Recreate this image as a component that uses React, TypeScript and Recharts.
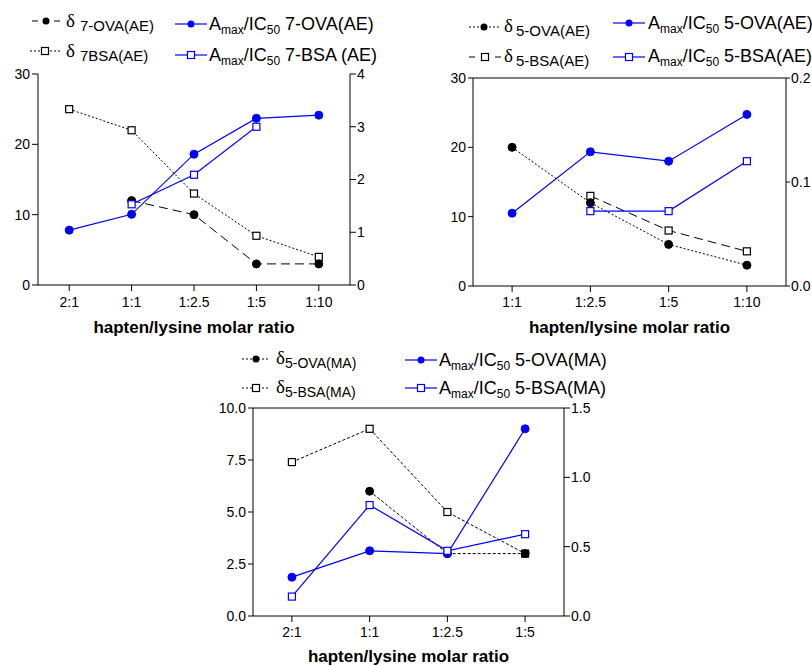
import React from 'react';
import { LineChart, Line, XAxis, YAxis, ReferenceLine } from 'recharts';

// ---------- Panel A: 7-series (AE) ----------
const ratiosA = ['2:1', '1:1', '1:2.5', '1:5', '1:10'];
const delta7OVA = [null, 12, 10, 3, 3];
const delta7BSA = [25, 22, 13, 7, 4];
const amax7OVA = [1.04, 1.34, 2.48, 3.16, 3.22];
const amax7BSA = [null, 1.53, 2.09, 3.0, null];
const leftTicksA = [0, 10, 20, 30];
const rightTicksA = [0, 1, 2, 3, 4];

// ---------- Panel B: 5-series (AE) ----------
const ratiosB = ['1:1', '1:2.5', '1:5', '1:10'];
const delta5OVA_AE = [20, 12, 6, 3];
const delta5BSA_AE = [null, 13, 8, 5];
const amax5OVA_AE = [0.07, 0.129, 0.12, 0.165];
const amax5BSA_AE = [null, 0.072, 0.072, 0.12];
const leftTicksB = [0, 10, 20, 30];
const rightTicksB = [0, 0.1, 0.2];

// ---------- Panel C: 5-series (MA) ----------
const ratiosC = ['2:1', '1:1', '1:2.5', '1:5'];
const delta5OVA_MA = [null, 6, 3, 3];
const delta5BSA_MA = [7.4, 9, 5, 3];
const amax5OVA_MA = [0.28, 0.47, 0.45, 1.35];
const amax5BSA_MA = [0.14, 0.8, 0.47, 0.59];
const leftTicksC = [0, 2.5, 5, 7.5, 10];
const rightTicksC = [0, 0.5, 1, 1.5];

const xTitle = 'hapten/lysine molar ratio';

const dataA = ratiosA.map((r, i) => ({ ratio: r, dOVA: delta7OVA[i], dBSA: delta7BSA[i], aOVA: amax7OVA[i], aBSA: amax7BSA[i] }));
const dataB = ratiosB.map((r, i) => ({ ratio: r, dOVA: delta5OVA_AE[i], dBSA: delta5BSA_AE[i], aOVA: amax5OVA_AE[i], aBSA: amax5BSA_AE[i] }));
const dataC = ratiosC.map((r, i) => ({ ratio: r, dOVA: delta5OVA_MA[i], dBSA: delta5BSA_MA[i], aOVA: amax5OVA_MA[i], aBSA: amax5BSA_MA[i] }));

const SANS = "'Liberation Sans', Arial, Helvetica, sans-serif";
const SERIF = "'Liberation Serif', 'Times New Roman', serif";
const BLUE = '#0000ff';
const BLACK = '#000000';

const circleDot = (color: string, r = 4) => (props: any) => {
  const { cx, cy, index, value } = props;
  if (cx == null || cy == null || value == null) return <g key={`c${index}`} />;
  return <circle key={`c${index}`} cx={cx} cy={cy} r={r} fill={color} stroke={color} strokeWidth={1} />;
};
const squareDot = (color: string, s = 7) => (props: any) => {
  const { cx, cy, index, value } = props;
  if (cx == null || cy == null || value == null) return <g key={`s${index}`} />;
  return <rect key={`s${index}`} x={cx - s / 2} y={cy - s / 2} width={s} height={s} fill="#ffffff" stroke={color} strokeWidth={1.2} />;
};

const tickStyle = { fontSize: 14, fill: BLACK, fontFamily: SANS };
const axisLine = { stroke: BLACK, strokeWidth: 1 };
const tickLine = { stroke: BLACK, strokeWidth: 1 };

const fmt1 = (v: number) => v.toFixed(1);

type PanelProps = {
  data: any[];
  width: number;
  height: number;
  top: number;
  leftW: number;
  rightW: number;
  xH: number;
  pad: number;
  leftDomain: [number, number];
  rightDomain: [number, number];
  leftTicks: number[];
  rightTicks: number[];
  leftFmt?: (v: number) => string;
  rightFmt?: (v: number) => string;
  topLine?: boolean;
  dOVADash: string;
  dBSADash: string;
  titleOffset: number;
  xTickMargin: number;
  lTick: [number, number];
  rTick: [number, number];
};

function Panel(p: PanelProps) {
  return (
    <LineChart width={p.width} height={p.height} data={p.data} margin={{ top: p.top, right: 0, bottom: 0, left: 0 }}>
      <XAxis
        dataKey="ratio"
        type="category"
        height={p.xH}
        padding={{ left: p.pad, right: p.pad }}
        tick={tickStyle}
        tickSize={6}
        tickMargin={p.xTickMargin}
        axisLine={axisLine}
        tickLine={tickLine}
        interval={0}
        label={{ value: xTitle, position: 'insideBottom', offset: p.titleOffset, fontSize: 17, fontWeight: 700, fill: BLACK, fontFamily: SANS }}
      />
      <YAxis
        yAxisId="left"
        orientation="left"
        width={p.leftW}
        domain={p.leftDomain}
        ticks={p.leftTicks}
        tickFormatter={p.leftFmt}
        tick={tickStyle}
        tickSize={p.lTick[0]}
        tickMargin={p.lTick[1]}
        axisLine={axisLine}
        tickLine={tickLine}
        allowDataOverflow
      />
      <YAxis
        yAxisId="right"
        orientation="right"
        width={p.rightW}
        domain={p.rightDomain}
        ticks={p.rightTicks}
        tickFormatter={p.rightFmt}
        tick={{ ...tickStyle, textAnchor: 'start' }}
        tickSize={p.rTick[0]}
        tickMargin={p.rTick[1]}
        axisLine={axisLine}
        tickLine={tickLine}
        allowDataOverflow
      />
      {p.topLine && <ReferenceLine yAxisId="left" y={p.leftDomain[1]} stroke={BLACK} strokeWidth={1} />}
      <Line yAxisId="left" dataKey="dBSA" stroke={BLACK} strokeWidth={1} strokeDasharray={p.dBSADash} dot={squareDot(BLACK)} isAnimationActive={false} />
      <Line yAxisId="left" dataKey="dOVA" stroke={BLACK} strokeWidth={1} strokeDasharray={p.dOVADash} dot={circleDot(BLACK)} isAnimationActive={false} />
      <Line yAxisId="right" dataKey="aOVA" stroke={BLUE} strokeWidth={1.2} dot={circleDot(BLUE)} isAnimationActive={false} />
      <Line yAxisId="right" dataKey="aBSA" stroke={BLUE} strokeWidth={1.2} dot={squareDot(BLUE)} isAnimationActive={false} />
    </LineChart>
  );
}

// ---------- Legend helpers (SVG overlay) ----------
function Icon({ x1, x2, y, color, dash, marker }: { x1: number; x2: number; y: number; color: string; dash?: string; marker: 'circle' | 'square' }) {
  const mx = (x1 + x2) / 2;
  return (
    <g>
      <line x1={x1} x2={x2} y1={y} y2={y} stroke={color} strokeWidth={1.2} strokeDasharray={dash} />
      {marker === 'circle' ? (
        <circle cx={mx} cy={y} r={3.5} fill={color} />
      ) : (
        <rect x={mx - 3.5} y={y - 3.5} width={7} height={7} fill="#fff" stroke={color} strokeWidth={1.2} />
      )}
    </g>
  );
}

function DeltaLabel({ x, y, sub, subX, subY, subSize }: { x: number; y: number; sub: string; subX: number; subY: number; subSize: number }) {
  return (
    <g>
      <text x={x} y={y} fontFamily={SERIF} fontSize={19} fill={BLACK}>δ</text>
      <text x={subX} y={subY} fontFamily={SANS} fontSize={subSize} fill={BLACK}>{sub}</text>
    </g>
  );
}

function AmaxLabel({ x, y, rest }: { x: number; y: number; rest: string }) {
  return (
    <text x={x} y={y} fontFamily={SANS} fontSize={18} fill={BLACK}>
      A
      <tspan fontSize={12} dy={4}>max</tspan>
      <tspan dy={-4}>/IC</tspan>
      <tspan fontSize={12} dy={4}>50</tspan>
      <tspan dy={-4}>{rest}</tspan>
    </text>
  );
}

export default function App() {
  return (
    <div style={{ position: 'absolute', left: 0, top: 0, width: 812, height: 666, background: '#ffffff', overflow: 'hidden' }}>
      <div style={{ position: 'absolute', left: 0, top: 0 }}>
        <Panel
          data={dataA}
          width={400}
          height={340}
          top={74}
          leftW={38}
          rightW={50}
          xH={55}
          pad={31.2}
          leftDomain={[0, 30]}
          rightDomain={[0, 4]}
          leftTicks={leftTicksA}
          rightTicks={rightTicksA}
          dOVADash="9 5"
          dBSADash="2 2"
          titleOffset={7}
          xTickMargin={6}
          lTick={[6, 2]}
          rTick={[6, 1]}
        />
      </div>
      <div style={{ position: 'absolute', left: 410, top: 0 }}>
        <Panel
          data={dataB}
          width={402}
          height={340}
          top={78}
          leftW={63}
          rightW={26}
          xH={54}
          pad={39.1}
          leftDomain={[0, 30]}
          rightDomain={[0, 0.2]}
          leftTicks={leftTicksB}
          rightTicks={rightTicksB}
          rightFmt={fmt1}
          topLine
          dOVADash="2 2"
          dBSADash="9 5"
          titleOffset={7}
          xTickMargin={5}
          lTick={[5, 2]}
          rTick={[4, 1]}
        />
      </div>
      <div style={{ position: 'absolute', left: 200, top: 340 }}>
        <Panel
          data={dataC}
          width={420}
          height={326}
          top={68}
          leftW={53}
          rightW={56}
          xH={50}
          pad={38.9}
          leftDomain={[0, 10]}
          rightDomain={[0, 1.5]}
          leftTicks={leftTicksC}
          rightTicks={rightTicksC}
          leftFmt={fmt1}
          rightFmt={fmt1}
          topLine
          dOVADash="3 2"
          dBSADash="3 2"
          titleOffset={4}
          xTickMargin={5}
          lTick={[5, 2]}
          rTick={[6, 1]}
        />
      </div>
      <svg width={812} height={666} style={{ position: 'absolute', left: 0, top: 0, pointerEvents: 'none' }}>
        {/* Panel A legend */}
        <Icon x1={32} x2={60} y={21} color={BLACK} dash="6 16" marker="circle" />
        <DeltaLabel x={66} y={27} sub="7-OVA(AE)" subX={80} subY={31} subSize={15} />
        <Icon x1={30} x2={60} y={51} color={BLACK} dash="2 2" marker="square" />
        <DeltaLabel x={66} y={57} sub="7BSA(AE)" subX={80} subY={61} subSize={15} />
        <Icon x1={175} x2={207} y={24} color={BLUE} marker="circle" />
        <AmaxLabel x={209} y={30} rest=" 7-OVA(AE)" />
        <Icon x1={175} x2={207} y={55} color={BLUE} marker="square" />
        <AmaxLabel x={209} y={61} rest=" 7-BSA (AE)" />

        {/* Panel B legend */}
        <Icon x1={469} x2={499} y={27} color={BLACK} dash="2 2" marker="circle" />
        <DeltaLabel x={504} y={32} sub="5-OVA(AE)" subX={516} subY={36} subSize={15} />
        <Icon x1={469} x2={501} y={57} color={BLACK} dash="6 20" marker="square" />
        <DeltaLabel x={504} y={62} sub="5-BSA(AE)" subX={516} subY={66} subSize={15} />
        <Icon x1={613} x2={645} y={23} color={BLUE} marker="circle" />
        <AmaxLabel x={648} y={29} rest=" 5-OVA(AE)" />
        <Icon x1={613} x2={645} y={57} color={BLUE} marker="square" />
        <AmaxLabel x={648} y={62} rest=" 5-BSA(AE)" />

        {/* Panel C legend */}
        <Icon x1={242} x2={270} y={359} color={BLACK} dash="2 2" marker="circle" />
        <DeltaLabel x={276} y={364} sub="5-OVA(MA)" subX={285} subY={368} subSize={14} />
        <Icon x1={242} x2={270} y={388} color={BLACK} dash="2 2" marker="square" />
        <DeltaLabel x={276} y={393} sub="5-BSA(MA)" subX={285} subY={397} subSize={14} />
        <Icon x1={405} x2={437} y={360} color={BLUE} marker="circle" />
        <AmaxLabel x={439} y={366} rest=" 5-OVA(MA)" />
        <Icon x1={405} x2={437} y={388} color={BLUE} marker="square" />
        <AmaxLabel x={439} y={394} rest=" 5-BSA(MA)" />
      </svg>
    </div>
  );
}
